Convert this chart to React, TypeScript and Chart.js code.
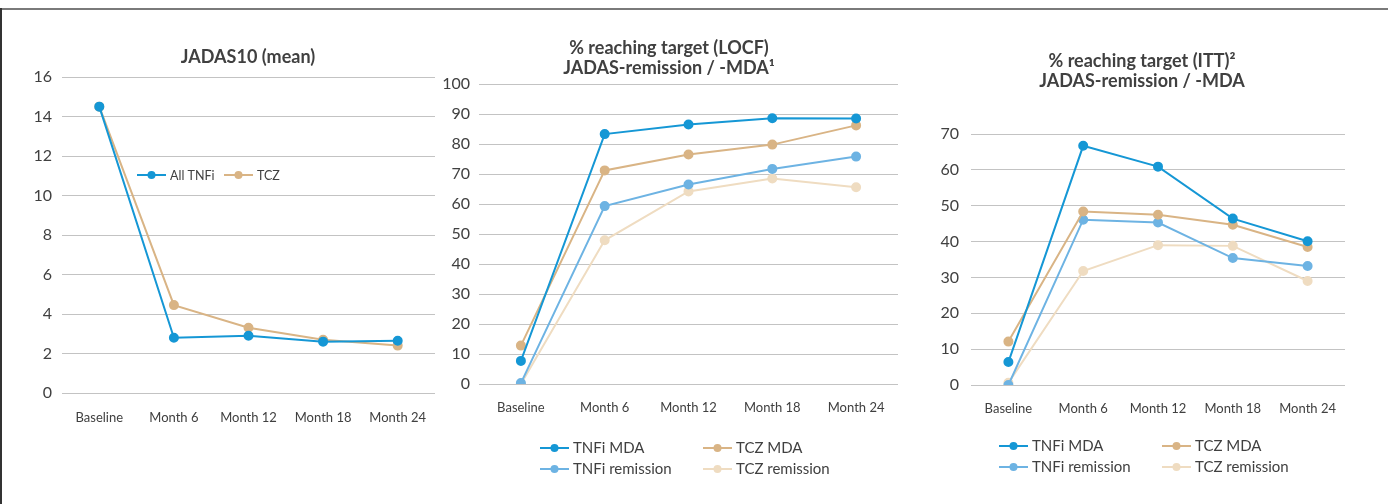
import React, { useEffect, useRef } from "react";
import { Chart, registerables } from "chart.js";

Chart.register(...registerables);

// ---- data ----
const months = ["Baseline", "Month 6", "Month 12", "Month 18", "Month 24"];

const jadasTnfi = [14.5, 2.8, 2.9, 2.6, 2.65];
const jadasTcz = [14.5, 4.45, 3.3, 2.7, 2.4];

const locfTnfiMda = [7.7, 83.3, 86.5, 88.6, 88.5];
const locfTczMda = [12.8, 71.2, 76.5, 79.8, 86.2];
const locfTnfiRem = [0.3, 59.3, 66.5, 71.7, 75.8];
const locfTczRem = [0, 47.9, 64.2, 68.5, 65.6];

const ittTnfiMda = [6.4, 66.7, 60.9, 46.4, 40.1];
const ittTczMda = [12.1, 48.4, 47.5, 44.7, 38.5];
const ittTnfiRem = [0, 46.1, 45.3, 35.4, 33.2];
const ittTczRem = [0.6, 31.8, 39.0, 38.8, 29.0];

const titleJadas = ["JADAS10 (mean)"];
const titleLocf = ["% reaching target (LOCF)", "JADAS-remission / -MDA\u00B9"];
const titleItt = ["% reaching target (ITT)\u00B2", "JADAS-remission / -MDA"];

const labelsJadas = ["All TNFi", "TCZ"];
const labelsTarget = ["TNFi MDA", "TCZ MDA", "TNFi remission", "TCZ remission"];

// ---- style ----
const C_BLUE = "#1597d5";
const C_TAN = "#d9b485";
const C_LBLUE = "#6db3e3";
const C_LTAN = "#efdcc1";
const GRID = "#c3c3c3";
const TXT = "#404040";
const FONT = "Lato, 'Open Sans', sans-serif";

const W = 1388;
const H = 504;

const decorPlugin = {
  id: "panelDecor",
  afterDraw(chart: any, _args: any, opts: any) {
    const ctx = chart.ctx;
    ctx.save();
    // titles
    ctx.fillStyle = TXT;
    ctx.textAlign = "center";
    ctx.textBaseline = "middle";
    ctx.font = `bold ${opts.titleSize}px ${FONT}`;
    opts.titles.forEach((t: string, i: number) => {
      ctx.fillText(t, opts.titleX, opts.titleY + i * opts.titleLine);
    });
    // legend
    ctx.font = `${opts.legendSize}px ${FONT}`;
    ctx.textAlign = "left";
    opts.legend.forEach((it: any) => {
      const ds = chart.data.datasets[it.i];
      const col = ds.borderColor;
      ctx.strokeStyle = col;
      ctx.lineWidth = 2;
      ctx.beginPath();
      ctx.moveTo(it.x, it.y);
      ctx.lineTo(it.x + opts.lineLen, it.y);
      ctx.stroke();
      ctx.fillStyle = col;
      ctx.beginPath();
      ctx.arc(it.x + opts.lineLen / 2, it.y, 4, 0, Math.PI * 2);
      ctx.fill();
      ctx.fillStyle = TXT;
      ctx.fillText(ds.label, it.x + opts.lineLen + 4, it.y + 0.5);
    });
    ctx.restore();
  },
};

function ds(label: string, data: number[], color: string) {
  return {
    label,
    data,
    borderColor: color,
    backgroundColor: color,
    pointBackgroundColor: color,
    pointBorderColor: color,
    borderWidth: 2,
    pointRadius: 4,
    pointHoverRadius: 4,
    tension: 0,
  };
}

function makeConfig(p: any) {
  const yW = 50;
  const xH = 30;
  return {
    type: "line",
    data: { labels: months, datasets: p.datasets },
    options: {
      responsive: false,
      animation: false,
      events: [],
      layout: {
        padding: {
          left: p.left - yW,
          right: W - p.right,
          top: p.top,
          bottom: H - p.bottom - xH,
        },
      },
      plugins: {
        legend: { display: false },
        title: { display: false },
        tooltip: { enabled: false },
        panelDecor: p.decor,
      },
      scales: {
        x: {
          offset: true,
          grid: { display: false },
          border: { display: false },
          ticks: {
            color: TXT,
            font: { family: FONT, size: p.xFont },
            padding: p.xPad,
            maxRotation: 0,
            autoSkip: false,
          },
          afterFit(s: any) {
            s.height = xH;
          },
        },
        y: {
          min: 0,
          max: p.max,
          ticks: {
            stepSize: p.step,
            color: TXT,
            font: { family: FONT, size: p.yFont },
            padding: p.yPad,
          },
          grid: { color: GRID, lineWidth: 1, drawTicks: false },
          border: { display: false },
          afterFit(s: any) {
            s.width = yW;
          },
        },
      },
    },
    plugins: [decorPlugin],
  };
}

const panels = [
  {
    left: 62,
    right: 435,
    top: 77,
    bottom: 393,
    max: 16,
    step: 2,
    yFont: 16,
    xFont: 13,
    xPad: 9,
    yPad: 10,
    datasets: [ds(labelsJadas[0], jadasTnfi, C_BLUE), ds(labelsJadas[1], jadasTcz, C_TAN)],
    decor: {
      titles: titleJadas,
      titleX: 248,
      titleY: 57,
      titleLine: 20,
      titleSize: 18,
      legendSize: 12.5,
      lineLen: 29,
      legend: [
        { i: 0, x: 137, y: 175 },
        { i: 1, x: 224, y: 175 },
      ],
    },
  },
  {
    left: 479,
    right: 898,
    top: 84,
    bottom: 384,
    max: 100,
    step: 10,
    yFont: 16,
    xFont: 13,
    xPad: 8,
    yPad: 9,
    datasets: [
      ds(labelsTarget[0], locfTnfiMda, C_BLUE),
      ds(labelsTarget[1], locfTczMda, C_TAN),
      ds(labelsTarget[2], locfTnfiRem, C_LBLUE),
      ds(labelsTarget[3], locfTczRem, C_LTAN),
    ],
    decor: {
      titles: titleLocf,
      titleX: 669,
      titleY: 48,
      titleLine: 20,
      titleSize: 18,
      legendSize: 15,
      lineLen: 29,
      legend: [
        { i: 0, x: 540, y: 448 },
        { i: 1, x: 703, y: 448 },
        { i: 2, x: 540, y: 469 },
        { i: 3, x: 703, y: 469 },
      ],
    },
  },
  {
    left: 971,
    right: 1345,
    top: 134,
    bottom: 385,
    max: 70,
    step: 10,
    yFont: 16,
    xFont: 13,
    xPad: 8,
    yPad: 12,
    datasets: [
      ds(labelsTarget[0], ittTnfiMda, C_BLUE),
      ds(labelsTarget[1], ittTczMda, C_TAN),
      ds(labelsTarget[2], ittTnfiRem, C_LBLUE),
      ds(labelsTarget[3], ittTczRem, C_LTAN),
    ],
    decor: {
      titles: titleItt,
      titleX: 1142,
      titleY: 61,
      titleLine: 20,
      titleSize: 18,
      legendSize: 15,
      lineLen: 29,
      legend: [
        { i: 0, x: 999, y: 446 },
        { i: 1, x: 1162, y: 446 },
        { i: 2, x: 999, y: 467 },
        { i: 3, x: 1162, y: 467 },
      ],
    },
  },
];

function Panel({ cfg }: { cfg: any }) {
  const ref = useRef<HTMLCanvasElement | null>(null);
  useEffect(() => {
    if (!ref.current) return;
    const chart = new Chart(ref.current, makeConfig(cfg) as any);
    return () => chart.destroy();
  }, [cfg]);
  return (
    <canvas
      ref={ref}
      width={W}
      height={H}
      style={{ position: "absolute", left: 0, top: 0, width: W, height: H }}
    />
  );
}

export default function App() {
  return (
    <div
      style={{
        position: "fixed",
        left: 0,
        top: 0,
        width: W,
        height: H,
        background: "#ffffff",
        overflow: "hidden",
      }}
    >
      <div
        style={{
          position: "absolute",
          left: 0,
          top: 8,
          width: W,
          height: 0,
          borderTop: "2px solid #7a7a7a",
        }}
      />
      <div
        style={{
          position: "absolute",
          left: 0,
          top: 8,
          width: 0,
          height: H - 8,
          borderLeft: "2px solid #333333",
        }}
      />
      {panels.map((p, i) => (
        <Panel key={i} cfg={p} />
      ))}
    </div>
  );
}
